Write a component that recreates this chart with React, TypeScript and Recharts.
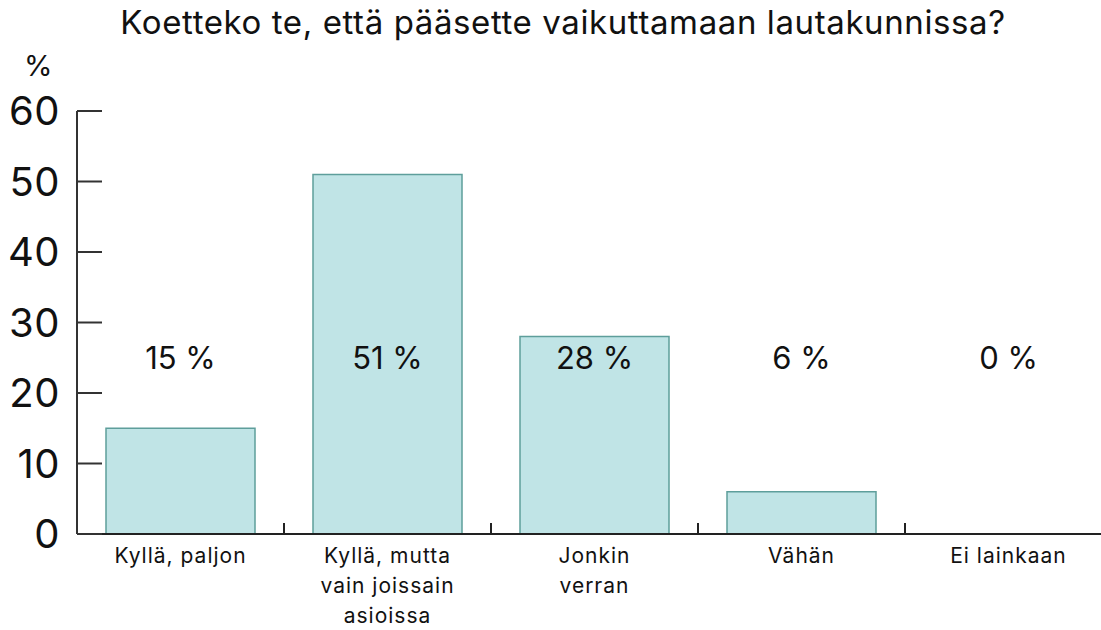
import { Bar, BarChart, LabelList, XAxis, YAxis } from 'recharts';

const categories = [
  'Kyllä, paljon',
  'Kyllä, mutta\nvain joissain\nasioissa',
  'Jonkin\nverran',
  'Vähän',
  'Ei lainkaan',
];
const shares = [15, 51, 28, 6, 0];
const yTicks = [0, 10, 20, 30, 40, 50, 60];

const data = categories.map((name, i) => ({ name, share: shares[i] }));

const FONT = 'Inter, "Noto Sans", sans-serif';
const TOP = 111;
const BOTTOM = 534;
const Y_MAX = 60;
const LABEL_LEVEL = 25;
const HALF_BAND = 103.5;
const X_TICK_MARGIN = 14;
const Y_TICK_MARGIN = 17;

function ValueTick({ x, y, payload }: any) {
  const ax = x + Y_TICK_MARGIN;
  return (
    <g>
      <line x1={ax} x2={ax + 25} y1={y} y2={y} stroke="#333" strokeWidth={2} />
      <text x={x} y={y} dy="0.36em" textAnchor="end" fontSize={40} letterSpacing={0.5} fill="#111" fontFamily={FONT}>
        {payload.value}
      </text>
    </g>
  );
}

function CategoryTick({ x, y, payload }: any) {
  const lines = String(payload.value).split('\n');
  const axisY = y - X_TICK_MARGIN;
  return (
    <g>
      <line x1={x + HALF_BAND} x2={x + HALF_BAND} y1={axisY} y2={axisY - 11} stroke="#222" strokeWidth={2} />
      <text x={x} y={y} textAnchor="middle" fontSize={21} letterSpacing={1} fill="#111" fontFamily={FONT}>
        {lines.map((l, i) => (
          <tspan key={i} x={x} dy={i === 0 ? '0.72em' : 30}>
            {l}
          </tspan>
        ))}
      </text>
    </g>
  );
}

function BarShape({ x, y, width, height }: any) {
  return (
    <path
      d={`M${x},${y}h${width}v${height}h${-width}Z`}
      fill="#c0e4e6"
      stroke="#5e9e9b"
      strokeWidth={1.5}
    />
  );
}

function ShareLabel({ x, width, value }: any) {
  const ly = BOTTOM - ((BOTTOM - TOP) * LABEL_LEVEL) / Y_MAX;
  return (
    <text x={x + width / 2} y={ly} dy="0.36em" textAnchor="middle" fontSize={31} fill="#111" fontFamily={FONT}>
      {`${value} %`}
    </text>
  );
}

export default function App() {
  return (
    <div
      style={{
        position: 'fixed',
        left: 0,
        top: 0,
        width: 1101,
        height: 630,
        overflow: 'hidden',
        background: '#fff',
        fontFamily: FONT,
      }}
    >
      <div
        style={{
          position: 'absolute',
          top: 2,
          left: 0,
          width: 1126,
          textAlign: 'center',
          fontSize: 33,
          letterSpacing: 0.6,
          color: '#111',
          lineHeight: '40px',
        }}
      >
        Koetteko te, että pääsette vaikuttamaan lautakunnissa?
      </div>
      <div style={{ position: 'absolute', top: 48, left: 24, fontSize: 29, color: '#111' }}>%</div>
      <BarChart
        width={1115}
        height={630}
        data={data}
        margin={{ top: TOP, right: 3, bottom: 0, left: 0 }}
        barSize={149}
      >
        <YAxis
          width={77}
          domain={[0, Y_MAX]}
          ticks={yTicks}
          interval={0}
          tickSize={0}
          tickMargin={Y_TICK_MARGIN}
          tick={<ValueTick />}
          axisLine={{ stroke: '#333', strokeWidth: 2 }}
          tickLine={false}
        />
        <XAxis
          dataKey="name"
          height={96}
          interval={0}
          tickSize={0}
          tickMargin={X_TICK_MARGIN}
          tick={<CategoryTick />}
          axisLine={{ stroke: '#222', strokeWidth: 2 }}
          tickLine={false}
        />
        <Bar dataKey="share" shape={<BarShape />} isAnimationActive={false}>
          <LabelList dataKey="share" content={<ShareLabel />} />
        </Bar>
      </BarChart>
    </div>
  );
}
